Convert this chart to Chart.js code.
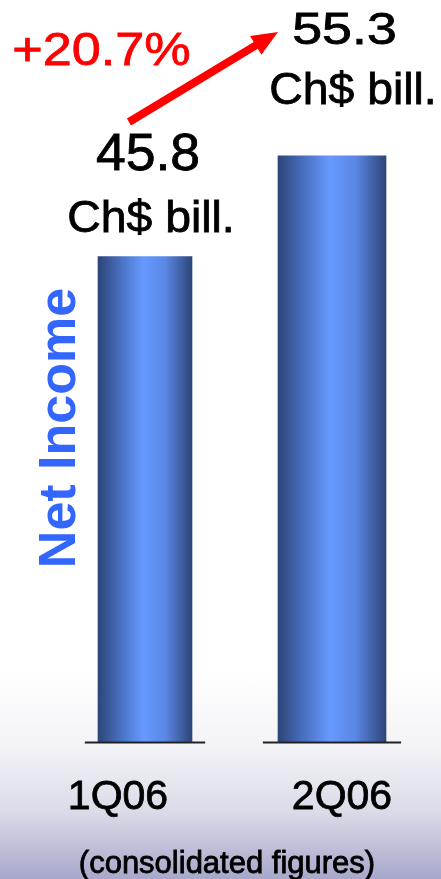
<!DOCTYPE html>
<html lang="en">
<head>
    <meta charset="UTF-8">
    <title>Net Income 1Q06 - 2Q06</title>
    <script src="https://cdn.jsdelivr.net/npm/chart.js"></script>
    <style>
        html, body {
            margin: 0;
            padding: 0;
            overflow: hidden;
        }
        body {
            width: 441px;
            height: 879px;
            background: linear-gradient(to bottom, #ffffff 0px, #ffffff 670px, #f4f4f8 742px, #dcdce9 810px, #a7a7cb 879px);
        }
        .chart-box {
            position: relative;
            width: 441px;
            height: 879px;
        }
    </style>
</head>
<body>
    <div class="chart-box">
        <canvas id="incomeChart"></canvas>
    </div>

    <script>
        // Net income, Ch$ billions (consolidated)
        const quarters = ['1Q06', '2Q06'];
        const netIncome = [45.8, 55.3];
        const unitLabel = 'Ch$ bill.';
        const axisTitle = 'Net Income';
        const footnote = '(consolidated figures)';

        const FONT = '"Liberation Sans", Arial, sans-serif';

        // horizontal shading across each bar: dark edges, bright middle
        function barFill(ctx) {
            const chart = ctx.chart;
            const x = chart.scales.x;
            if (!chart.chartArea || !x) return '#5b86e6';
            const cx = x.getPixelForValue(ctx.dataIndex);
            const half = ctx.dataset.barThickness / 2;
            const g = chart.ctx.createLinearGradient(cx - half, 0, cx + half, 0);
            g.addColorStop(0, '#2d4577');
            g.addColorStop(0.2, '#4469b5');
            g.addColorStop(0.48, '#6699ff');
            g.addColorStop(0.72, '#5b86e4');
            g.addColorStop(1, '#2d4577');
            return g;
        }

        // centred text, optionally widened, with a thin outline for weight
        function drawText(c, text, x, y, size, color, sx, weight) {
            c.save();
            c.translate(x, y);
            c.scale(sx, 1);
            c.font = (weight || 'normal') + ' ' + size + 'px ' + FONT;
            c.fillStyle = color;
            c.strokeStyle = color;
            c.lineWidth = 0.8;
            c.textAlign = 'center';
            c.textBaseline = 'alphabetic';
            c.fillText(text, 0, 0);
            c.strokeText(text, 0, 0);
            c.restore();
        }

        const slideDecor = {
            id: 'slideDecor',
            afterDatasetsDraw(chart) {
                const c = chart.ctx;
                const xs = chart.scales.x;
                const ys = chart.scales.y;
                const base = ys.getPixelForValue(0);

                // short baseline under each bar
                chart.data.datasets.forEach((ds, i) => {
                    chart.getDatasetMeta(i).data.forEach((bar, j) => {
                        if (ds.data[j] == null) return;
                        const w = bar.width;
                        c.save();
                        c.strokeStyle = '#222';
                        c.lineWidth = 2;
                        c.beginPath();
                        c.moveTo(bar.x - w / 2 - w * 0.14, base + 0.5);
                        c.lineTo(bar.x + w / 2 + w * 0.14, base + 0.5);
                        c.stroke();
                        c.restore();
                    });
                });

                // value labels
                drawText(c, netIncome[0].toFixed(1), 148, 170, 52, '#000', 1.03);
                drawText(c, unitLabel, 151, 232, 45, '#000', 1.03);
                drawText(c, netIncome[1].toFixed(1), 344.5, 44, 44, '#000', 1.22);
                drawText(c, unitLabel, 353, 104, 45, '#000', 1.03);

                // growth arrow
                const growth = (netIncome[1] / netIncome[0] - 1) * 100;
                drawText(c, '+' + growth.toFixed(1) + '%', 101.5, 65, 47, '#ff0000', 1.11);

                const x0 = 129, y0 = 122, x1 = 278, y1 = 32;
                const ang = Math.atan2(y1 - y0, x1 - x0);
                const headLen = 26, headW = 11;
                const bx = x1 - headLen * Math.cos(ang);
                const by = y1 - headLen * Math.sin(ang);
                c.save();
                c.strokeStyle = '#ff0000';
                c.fillStyle = '#ff0000';
                c.lineWidth = 8;
                c.beginPath();
                c.moveTo(x0, y0);
                c.lineTo(bx + 2 * Math.cos(ang), by + 2 * Math.sin(ang));
                c.stroke();
                c.beginPath();
                c.moveTo(x1, y1);
                c.lineTo(bx - headW * Math.sin(ang), by + headW * Math.cos(ang));
                c.lineTo(bx + headW * Math.sin(ang), by - headW * Math.cos(ang));
                c.closePath();
                c.fill();
                c.restore();

                // category labels under the bars
                const shift = [-27, 10];
                quarters.forEach((q, i) => {
                    drawText(c, q, xs.getPixelForValue(i) + shift[i], 809, 41, '#000', 1);
                });

                drawText(c, footnote, 227, 873, 31, '#000', 1);

                // vertical title
                c.save();
                c.translate(75, 428);
                c.rotate(-Math.PI / 2);
                c.font = 'bold 52px ' + FONT;
                c.fillStyle = '#3366ff';
                c.textAlign = 'center';
                c.textBaseline = 'alphabetic';
                c.fillText(axisTitle, 0, 0);
                c.restore();
            }
        };

        const chart = new Chart(document.getElementById('incomeChart'), {
            type: 'bar',
            data: {
                labels: quarters,
                datasets: [{
                    label: quarters[0],
                    data: [netIncome[0], null],
                    barThickness: 94,
                    backgroundColor: barFill,
                    borderWidth: 0
                }, {
                    label: quarters[1],
                    data: [null, netIncome[1]],
                    barThickness: 108,
                    backgroundColor: barFill,
                    borderWidth: 0
                }]
            },
            options: {
                responsive: true,
                maintainAspectRatio: false,
                animation: false,
                layout: {
                    padding: { left: 51.5, right: 15.5, top: 0, bottom: 137 }
                },
                scales: {
                    x: { display: false, stacked: true },
                    y: { display: false, stacked: true, min: 0, max: 70 }
                },
                plugins: {
                    legend: { display: false },
                    tooltip: { enabled: false }
                }
            },
            plugins: [slideDecor]
        });
    </script>
</body>
</html>
